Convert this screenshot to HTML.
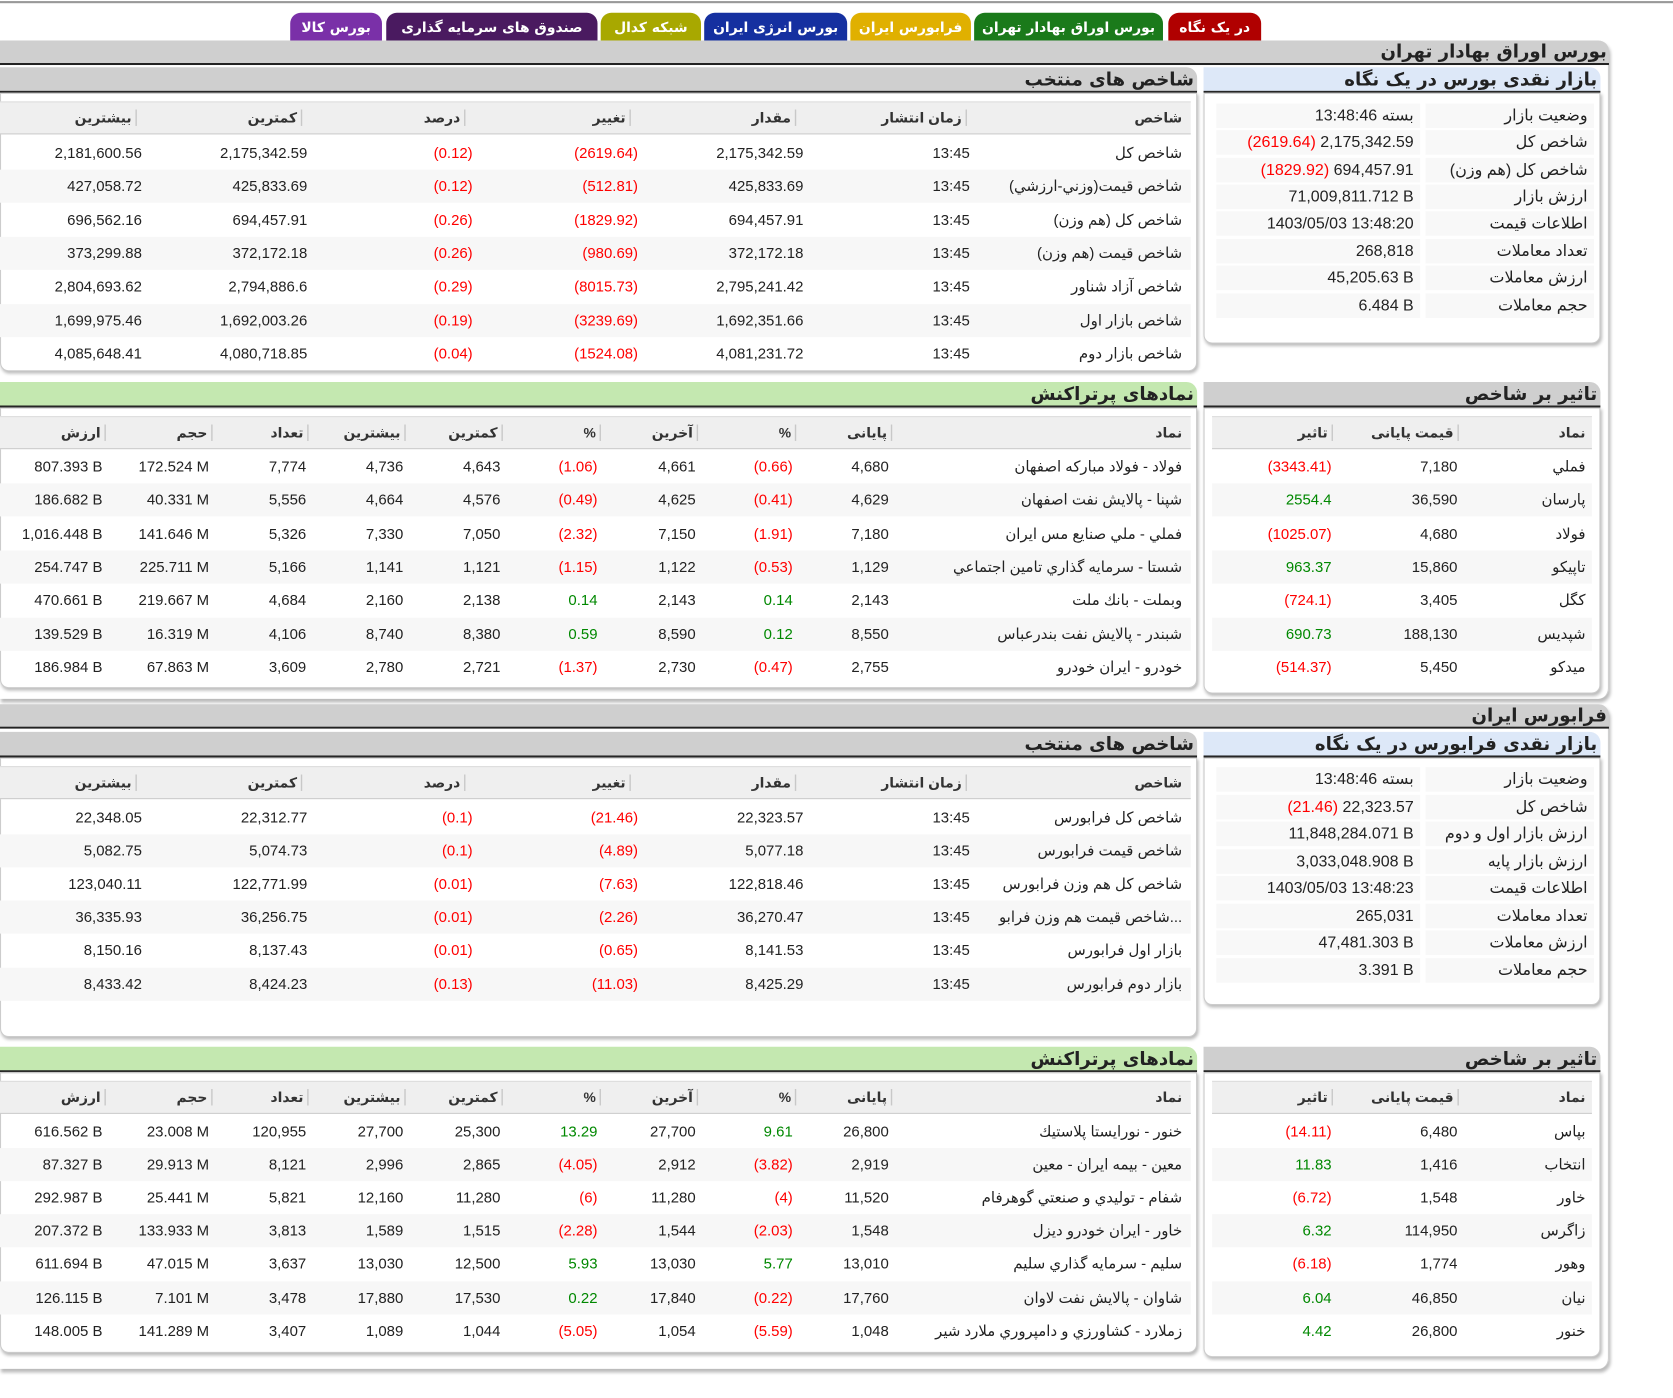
<!DOCTYPE html>
<html><head><meta charset="utf-8">
<style>
*{margin:0;padding:0;box-sizing:border-box}
body{width:1673px;height:1398px;background:#fff;overflow:hidden;font-family:"Liberation Sans","DejaVu Sans",sans-serif;color:#222}
#w{position:absolute;left:0;top:0;width:1568px;height:1310px;transform:scale(1.06696);transform-origin:0 0}
.a{position:absolute}
.tab{position:absolute;top:12px;height:26px;border-radius:10px 10px 0 0;color:#fff;font-weight:bold;font-size:13px;text-align:center;line-height:30px;font-family:"DejaVu Sans",sans-serif}
.mh{position:absolute;left:0;width:1508px;height:23px;background:#cfcfcf;border-bottom:2px solid #222;border-radius:0 10px 0 0;font-weight:bold;font-size:17px;text-align:right;padding-right:2px;line-height:22px;font-family:"DejaVu Sans",sans-serif}
.ph{position:absolute;height:24px;border-bottom:2px solid #222;font-weight:bold;font-size:17px;text-align:right;padding-right:3px;line-height:24px;border-radius:0 10px 0 0;font-family:"DejaVu Sans",sans-serif}
.pan{position:absolute;border:1px solid #ccc;border-radius:0 0 8px 8px;box-shadow:1px 2px 3px #bbb;background:#fff}
.r{position:absolute;left:0;height:31px;line-height:31px;font-size:14px}
.r.e{background:#f7f7f7}
.c{position:absolute;left:0;top:0;text-align:right;white-space:nowrap}
.hd{position:absolute;background:#efefef;border-bottom:1px solid #ccc;border-top:1px solid #ddd;font-weight:bold;font-size:13px;color:#333}
.hd .c{line-height:30px}
.hd i{font-style:normal;color:#c8c8c8;font-weight:normal}
.rd{color:#f00}.gr{color:#080}
.s{position:absolute;height:23px;line-height:23px;font-size:15px;background:#f8f8f8;text-align:right;padding-right:6px;white-space:nowrap}
</style></head><body><div id="w">
<div class="a" style="left:0;top:1px;width:1568px;height:2px;background:#999"></div>
<div class="tab" style="left:1095px;width:87px;background:#b00000">در یک نگاه</div>
<div class="tab" style="left:913px;width:177px;background:#1a7a1a">بورس اوراق بهادار تهران</div>
<div class="tab" style="left:797px;width:113px;background:#e0b000">فرابورس ایران</div>
<div class="tab" style="left:660px;width:134px;background:#1530a0">بورس انرژی ایران</div>
<div class="tab" style="left:563px;width:94px;background:#a8a800">شبکه کدال</div>
<div class="tab" style="left:362px;width:198px;background:#4a1a60">صندوق های سرمایه گذاری</div>
<div class="tab" style="left:272px;width:86px;background:#7a30a8">بورس کالا</div>

<div class="a" style="left:0;top:38px;width:1508px;height:617px;border-right:1px solid #ccc;box-shadow:1px 3px 3px #bbb;border-radius:0 10px 10px 0"></div>
<div class="mh" style="top:38px">بورس اوراق بهادار تهران</div>

<div class="ph" style="left:0;top:63px;width:1122px;background:#cfcfcf">شاخص های منتخب</div>
<div class="pan" style="left:0;top:87px;width:1122px;height:261px"></div>
<div class="hd" style="left:0;top:95px;width:1116px;height:31px">
<span class="c" style="width:1108px">شاخص</span><span class="c" style="width:915px">زمان انتشار <i>▏</i></span><span class="c" style="width:755px">مقدار <i>▏</i></span><span class="c" style="width:600px">تغییر <i>▏</i></span><span class="c" style="width:445px">درصد <i>▏</i></span><span class="c" style="width:292px">کمترین <i>▏</i></span><span class="c" style="width:137px">بیشترین <i>▏</i></span></div>
<div class="r" style="top:128px;width:1116px"><span class="c" style="width:1108px">شاخص کل</span><span class="c" style="width:909px">13:45</span><span class="c" style="width:753px">2,175,342.59</span><span class="c rd" style="width:598px">(2619.64)</span><span class="c rd" style="width:443px">(0.12)</span><span class="c" style="width:288px">2,175,342.59</span><span class="c" style="width:133px">2,181,600.56</span></div>
<div class="r e" style="top:159px;width:1116px"><span class="c" style="width:1108px">شاخص قيمت(وزني-ارزشي)</span><span class="c" style="width:909px">13:45</span><span class="c" style="width:753px">425,833.69</span><span class="c rd" style="width:598px">(512.81)</span><span class="c rd" style="width:443px">(0.12)</span><span class="c" style="width:288px">425,833.69</span><span class="c" style="width:133px">427,058.72</span></div>
<div class="r" style="top:191px;width:1116px"><span class="c" style="width:1108px">شاخص کل (هم وزن)</span><span class="c" style="width:909px">13:45</span><span class="c" style="width:753px">694,457.91</span><span class="c rd" style="width:598px">(1829.92)</span><span class="c rd" style="width:443px">(0.26)</span><span class="c" style="width:288px">694,457.91</span><span class="c" style="width:133px">696,562.16</span></div>
<div class="r e" style="top:222px;width:1116px"><span class="c" style="width:1108px">شاخص قيمت (هم وزن)</span><span class="c" style="width:909px">13:45</span><span class="c" style="width:753px">372,172.18</span><span class="c rd" style="width:598px">(980.69)</span><span class="c rd" style="width:443px">(0.26)</span><span class="c" style="width:288px">372,172.18</span><span class="c" style="width:133px">373,299.88</span></div>
<div class="r" style="top:253px;width:1116px"><span class="c" style="width:1108px">شاخص آزاد شناور</span><span class="c" style="width:909px">13:45</span><span class="c" style="width:753px">2,795,241.42</span><span class="c rd" style="width:598px">(8015.73)</span><span class="c rd" style="width:443px">(0.29)</span><span class="c" style="width:288px">2,794,886.6</span><span class="c" style="width:133px">2,804,693.62</span></div>
<div class="r e" style="top:285px;width:1116px"><span class="c" style="width:1108px">شاخص بازار اول</span><span class="c" style="width:909px">13:45</span><span class="c" style="width:753px">1,692,351.66</span><span class="c rd" style="width:598px">(3239.69)</span><span class="c rd" style="width:443px">(0.19)</span><span class="c" style="width:288px">1,692,003.26</span><span class="c" style="width:133px">1,699,975.46</span></div>
<div class="r" style="top:316px;width:1116px"><span class="c" style="width:1108px">شاخص بازار دوم</span><span class="c" style="width:909px">13:45</span><span class="c" style="width:753px">4,081,231.72</span><span class="c rd" style="width:598px">(1524.08)</span><span class="c rd" style="width:443px">(0.04)</span><span class="c" style="width:288px">4,080,718.85</span><span class="c" style="width:133px">4,085,648.41</span></div>

<div class="ph" style="left:1128px;top:63px;width:372px;background:#dde8f8">بازار نقدی بورس در یک نگاه</div>
<div class="pan" style="left:1128px;top:87px;width:372px;height:235px"></div>
<div class="s" style="left:1336px;top:97px;width:158px">وضعیت بازار</div><div class="s" style="left:1140px;top:97px;width:191px">بسته 13:48:46</div>
<div class="s" style="left:1336px;top:122px;width:158px">شاخص کل</div><div class="s" style="left:1140px;top:122px;width:191px"><span class="rd">(2619.64)</span> 2,175,342.59</div>
<div class="s" style="left:1336px;top:148px;width:158px">شاخص کل (هم وزن)</div><div class="s" style="left:1140px;top:148px;width:191px"><span class="rd">(1829.92)</span> 694,457.91</div>
<div class="s" style="left:1336px;top:173px;width:158px">ارزش بازار</div><div class="s" style="left:1140px;top:173px;width:191px">71,009,811.712 B</div>
<div class="s" style="left:1336px;top:198px;width:158px">اطلاعات قیمت</div><div class="s" style="left:1140px;top:198px;width:191px">1403/05/03 13:48:20</div>
<div class="s" style="left:1336px;top:224px;width:158px">تعداد معاملات</div><div class="s" style="left:1140px;top:224px;width:191px">268,818</div>
<div class="s" style="left:1336px;top:249px;width:158px">ارزش معاملات</div><div class="s" style="left:1140px;top:249px;width:191px">45,205.63 B</div>
<div class="s" style="left:1336px;top:275px;width:158px">حجم معاملات</div><div class="s" style="left:1140px;top:275px;width:191px">6.484 B</div>

<div class="ph" style="left:0;top:358px;width:1122px;background:#c4e8b0">نمادهای پرتراکنش</div>
<div class="pan" style="left:0;top:382px;width:1122px;height:263px"></div>
<div class="hd" style="left:0;top:390px;width:1116px;height:31px">
<span class="c" style="width:1108px">نماد</span><span class="c" style="width:845px">پایانی <i>▏</i></span><span class="c" style="width:755px">% <i>▏</i></span><span class="c" style="width:663px">آخرین <i>▏</i></span><span class="c" style="width:572px">% <i>▏</i></span><span class="c" style="width:480px">کمترین <i>▏</i></span><span class="c" style="width:389px">بیشترین <i>▏</i></span><span class="c" style="width:298px">تعداد <i>▏</i></span><span class="c" style="width:208px">حجم <i>▏</i></span><span class="c" style="width:108px">ارزش <i>▏</i></span></div>
<div class="r" style="top:422px;width:1116px"><span class="c" style="width:1108px">فولاد - فولاد مباركه اصفهان</span><span class="c" style="width:833px">4,680</span><span class="c rd" style="width:743px">(0.66)</span><span class="c" style="width:652px">4,661</span><span class="c rd" style="width:560px">(1.06)</span><span class="c" style="width:469px">4,643</span><span class="c" style="width:378px">4,736</span><span class="c" style="width:287px">7,774</span><span class="c" style="width:196px">172.524 M</span><span class="c" style="width:96px">807.393 B</span></div>
<div class="r e" style="top:453px;width:1116px"><span class="c" style="width:1108px">شپنا - پالايش نفت اصفهان</span><span class="c" style="width:833px">4,629</span><span class="c rd" style="width:743px">(0.41)</span><span class="c" style="width:652px">4,625</span><span class="c rd" style="width:560px">(0.49)</span><span class="c" style="width:469px">4,576</span><span class="c" style="width:378px">4,664</span><span class="c" style="width:287px">5,556</span><span class="c" style="width:196px">40.331 M</span><span class="c" style="width:96px">186.682 B</span></div>
<div class="r" style="top:485px;width:1116px"><span class="c" style="width:1108px">فملي - ملي صنايع مس ايران</span><span class="c" style="width:833px">7,180</span><span class="c rd" style="width:743px">(1.91)</span><span class="c" style="width:652px">7,150</span><span class="c rd" style="width:560px">(2.32)</span><span class="c" style="width:469px">7,050</span><span class="c" style="width:378px">7,330</span><span class="c" style="width:287px">5,326</span><span class="c" style="width:196px">141.646 M</span><span class="c" style="width:96px">1,016.448 B</span></div>
<div class="r e" style="top:516px;width:1116px"><span class="c" style="width:1108px">شستا - سرمايه گذاري تامين اجتماعي</span><span class="c" style="width:833px">1,129</span><span class="c rd" style="width:743px">(0.53)</span><span class="c" style="width:652px">1,122</span><span class="c rd" style="width:560px">(1.15)</span><span class="c" style="width:469px">1,121</span><span class="c" style="width:378px">1,141</span><span class="c" style="width:287px">5,166</span><span class="c" style="width:196px">225.711 M</span><span class="c" style="width:96px">254.747 B</span></div>
<div class="r" style="top:547px;width:1116px"><span class="c" style="width:1108px">وبملت - بانك ملت</span><span class="c" style="width:833px">2,143</span><span class="c gr" style="width:743px">0.14</span><span class="c" style="width:652px">2,143</span><span class="c gr" style="width:560px">0.14</span><span class="c" style="width:469px">2,138</span><span class="c" style="width:378px">2,160</span><span class="c" style="width:287px">4,684</span><span class="c" style="width:196px">219.667 M</span><span class="c" style="width:96px">470.661 B</span></div>
<div class="r e" style="top:579px;width:1116px"><span class="c" style="width:1108px">شبندر - پالايش نفت بندرعباس</span><span class="c" style="width:833px">8,550</span><span class="c gr" style="width:743px">0.12</span><span class="c" style="width:652px">8,590</span><span class="c gr" style="width:560px">0.59</span><span class="c" style="width:469px">8,380</span><span class="c" style="width:378px">8,740</span><span class="c" style="width:287px">4,106</span><span class="c" style="width:196px">16.319 M</span><span class="c" style="width:96px">139.529 B</span></div>
<div class="r" style="top:610px;width:1116px"><span class="c" style="width:1108px">خودرو - ايران خودرو</span><span class="c" style="width:833px">2,755</span><span class="c rd" style="width:743px">(0.47)</span><span class="c" style="width:652px">2,730</span><span class="c rd" style="width:560px">(1.37)</span><span class="c" style="width:469px">2,721</span><span class="c" style="width:378px">2,780</span><span class="c" style="width:287px">3,609</span><span class="c" style="width:196px">67.863 M</span><span class="c" style="width:96px">186.984 B</span></div>

<div class="ph" style="left:1128px;top:358px;width:372px;background:#cfcfcf">تاثیر بر شاخص</div>
<div class="pan" style="left:1128px;top:382px;width:372px;height:268px"></div>
<div class="hd" style="left:1136px;top:390px;width:356px;height:31px"><span class="c" style="width:350px">نماد</span><span class="c" style="width:240px">قیمت پایانی <i>▏</i></span><span class="c" style="width:122px">تاثیر <i>▏</i></span></div>
<div class="r" style="left:1136px;top:422px;width:356px"><span class="c" style="width:350px">فملي</span><span class="c" style="width:230px">7,180</span><span class="c rd" style="width:112px">(3343.41)</span></div>
<div class="r e" style="left:1136px;top:453px;width:356px"><span class="c" style="width:350px">پارسان</span><span class="c" style="width:230px">36,590</span><span class="c gr" style="width:112px">2554.4</span></div>
<div class="r" style="left:1136px;top:485px;width:356px"><span class="c" style="width:350px">فولاد</span><span class="c" style="width:230px">4,680</span><span class="c rd" style="width:112px">(1025.07)</span></div>
<div class="r e" style="left:1136px;top:516px;width:356px"><span class="c" style="width:350px">تاپيكو</span><span class="c" style="width:230px">15,860</span><span class="c gr" style="width:112px">963.37</span></div>
<div class="r" style="left:1136px;top:547px;width:356px"><span class="c" style="width:350px">كگل</span><span class="c" style="width:230px">3,405</span><span class="c rd" style="width:112px">(724.1)</span></div>
<div class="r e" style="left:1136px;top:579px;width:356px"><span class="c" style="width:350px">شپديس</span><span class="c" style="width:230px">188,130</span><span class="c gr" style="width:112px">690.73</span></div>
<div class="r" style="left:1136px;top:610px;width:356px"><span class="c" style="width:350px">ميدكو</span><span class="c" style="width:230px">5,450</span><span class="c rd" style="width:112px">(514.37)</span></div>

<div class="a" style="left:0;top:660px;width:1508px;height:623px;border-right:1px solid #ccc;box-shadow:1px 3px 3px #bbb;border-radius:0 10px 10px 0"></div>
<div class="mh" style="top:660px">فرابورس ایران</div>

<div class="ph" style="left:0;top:686px;width:1122px;background:#cfcfcf">شاخص های منتخب</div>
<div class="pan" style="left:0;top:710px;width:1122px;height:262px"></div>
<div class="hd" style="left:0;top:718px;width:1116px;height:31px">
<span class="c" style="width:1108px">شاخص</span><span class="c" style="width:915px">زمان انتشار <i>▏</i></span><span class="c" style="width:755px">مقدار <i>▏</i></span><span class="c" style="width:600px">تغییر <i>▏</i></span><span class="c" style="width:445px">درصد <i>▏</i></span><span class="c" style="width:292px">کمترین <i>▏</i></span><span class="c" style="width:137px">بیشترین <i>▏</i></span></div>
<div class="r" style="top:751px;width:1116px"><span class="c" style="width:1108px">شاخص كل فرابورس</span><span class="c" style="width:909px">13:45</span><span class="c" style="width:753px">22,323.57</span><span class="c rd" style="width:598px">(21.46)</span><span class="c rd" style="width:443px">(0.1)</span><span class="c" style="width:288px">22,312.77</span><span class="c" style="width:133px">22,348.05</span></div>
<div class="r e" style="top:782px;width:1116px"><span class="c" style="width:1108px">شاخص قيمت فرابورس</span><span class="c" style="width:909px">13:45</span><span class="c" style="width:753px">5,077.18</span><span class="c rd" style="width:598px">(4.89)</span><span class="c rd" style="width:443px">(0.1)</span><span class="c" style="width:288px">5,074.73</span><span class="c" style="width:133px">5,082.75</span></div>
<div class="r" style="top:813px;width:1116px"><span class="c" style="width:1108px">شاخص كل هم وزن فرابورس</span><span class="c" style="width:909px">13:45</span><span class="c" style="width:753px">122,818.46</span><span class="c rd" style="width:598px">(7.63)</span><span class="c rd" style="width:443px">(0.01)</span><span class="c" style="width:288px">122,771.99</span><span class="c" style="width:133px">123,040.11</span></div>
<div class="r e" style="top:844px;width:1116px"><span class="c" style="width:1108px">شاخص قیمت هم وزن فرابو...</span><span class="c" style="width:909px">13:45</span><span class="c" style="width:753px">36,270.47</span><span class="c rd" style="width:598px">(2.26)</span><span class="c rd" style="width:443px">(0.01)</span><span class="c" style="width:288px">36,256.75</span><span class="c" style="width:133px">36,335.93</span></div>
<div class="r" style="top:875px;width:1116px"><span class="c" style="width:1108px">بازار اول فرابورس</span><span class="c" style="width:909px">13:45</span><span class="c" style="width:753px">8,141.53</span><span class="c rd" style="width:598px">(0.65)</span><span class="c rd" style="width:443px">(0.01)</span><span class="c" style="width:288px">8,137.43</span><span class="c" style="width:133px">8,150.16</span></div>
<div class="r e" style="top:907px;width:1116px"><span class="c" style="width:1108px">بازار دوم فرابورس</span><span class="c" style="width:909px">13:45</span><span class="c" style="width:753px">8,425.29</span><span class="c rd" style="width:598px">(11.03)</span><span class="c rd" style="width:443px">(0.13)</span><span class="c" style="width:288px">8,424.23</span><span class="c" style="width:133px">8,433.42</span></div>

<div class="ph" style="left:1128px;top:686px;width:372px;background:#dde8f8">بازار نقدی فرابورس در یک نگاه</div>
<div class="pan" style="left:1128px;top:710px;width:372px;height:232px"></div>
<div class="s" style="left:1336px;top:719px;width:158px">وضعیت بازار</div><div class="s" style="left:1140px;top:719px;width:191px">بسته 13:48:46</div>
<div class="s" style="left:1336px;top:745px;width:158px">شاخص کل</div><div class="s" style="left:1140px;top:745px;width:191px"><span class="rd">(21.46)</span> 22,323.57</div>
<div class="s" style="left:1336px;top:770px;width:158px">ارزش بازار اول و دوم</div><div class="s" style="left:1140px;top:770px;width:191px">11,848,284.071 B</div>
<div class="s" style="left:1336px;top:796px;width:158px">ارزش بازار پایه</div><div class="s" style="left:1140px;top:796px;width:191px">3,033,048.908 B</div>
<div class="s" style="left:1336px;top:821px;width:158px">اطلاعات قیمت</div><div class="s" style="left:1140px;top:821px;width:191px">1403/05/03 13:48:23</div>
<div class="s" style="left:1336px;top:847px;width:158px">تعداد معاملات</div><div class="s" style="left:1140px;top:847px;width:191px">265,031</div>
<div class="s" style="left:1336px;top:872px;width:158px">ارزش معاملات</div><div class="s" style="left:1140px;top:872px;width:191px">47,481.303 B</div>
<div class="s" style="left:1336px;top:898px;width:158px">حجم معاملات</div><div class="s" style="left:1140px;top:898px;width:191px">3.391 B</div>

<div class="ph" style="left:0;top:981px;width:1122px;background:#c4e8b0">نمادهای پرتراکنش</div>
<div class="pan" style="left:0;top:1005px;width:1122px;height:263px"></div>
<div class="hd" style="left:0;top:1013px;width:1116px;height:31px">
<span class="c" style="width:1108px">نماد</span><span class="c" style="width:845px">پایانی <i>▏</i></span><span class="c" style="width:755px">% <i>▏</i></span><span class="c" style="width:663px">آخرین <i>▏</i></span><span class="c" style="width:572px">% <i>▏</i></span><span class="c" style="width:480px">کمترین <i>▏</i></span><span class="c" style="width:389px">بیشترین <i>▏</i></span><span class="c" style="width:298px">تعداد <i>▏</i></span><span class="c" style="width:208px">حجم <i>▏</i></span><span class="c" style="width:108px">ارزش <i>▏</i></span></div>
<div class="r" style="top:1045px;width:1116px"><span class="c" style="width:1108px">خنور - نورايستا پلاستيك</span><span class="c" style="width:833px">26,800</span><span class="c gr" style="width:743px">9.61</span><span class="c" style="width:652px">27,700</span><span class="c gr" style="width:560px">13.29</span><span class="c" style="width:469px">25,300</span><span class="c" style="width:378px">27,700</span><span class="c" style="width:287px">120,955</span><span class="c" style="width:196px">23.008 M</span><span class="c" style="width:96px">616.562 B</span></div>
<div class="r e" style="top:1076px;width:1116px"><span class="c" style="width:1108px">معين - بيمه ايران - معين</span><span class="c" style="width:833px">2,919</span><span class="c rd" style="width:743px">(3.82)</span><span class="c" style="width:652px">2,912</span><span class="c rd" style="width:560px">(4.05)</span><span class="c" style="width:469px">2,865</span><span class="c" style="width:378px">2,996</span><span class="c" style="width:287px">8,121</span><span class="c" style="width:196px">29.913 M</span><span class="c" style="width:96px">87.327 B</span></div>
<div class="r" style="top:1107px;width:1116px"><span class="c" style="width:1108px">شفام - توليدي و صنعتي گوهرفام</span><span class="c" style="width:833px">11,520</span><span class="c rd" style="width:743px">(4)</span><span class="c" style="width:652px">11,280</span><span class="c rd" style="width:560px">(6)</span><span class="c" style="width:469px">11,280</span><span class="c" style="width:378px">12,160</span><span class="c" style="width:287px">5,821</span><span class="c" style="width:196px">25.441 M</span><span class="c" style="width:96px">292.987 B</span></div>
<div class="r e" style="top:1138px;width:1116px"><span class="c" style="width:1108px">خاور - ايران خودرو ديزل</span><span class="c" style="width:833px">1,548</span><span class="c rd" style="width:743px">(2.03)</span><span class="c" style="width:652px">1,544</span><span class="c rd" style="width:560px">(2.28)</span><span class="c" style="width:469px">1,515</span><span class="c" style="width:378px">1,589</span><span class="c" style="width:287px">3,813</span><span class="c" style="width:196px">133.933 M</span><span class="c" style="width:96px">207.372 B</span></div>
<div class="r" style="top:1169px;width:1116px"><span class="c" style="width:1108px">سليم - سرمايه گذاري سليم</span><span class="c" style="width:833px">13,010</span><span class="c gr" style="width:743px">5.77</span><span class="c" style="width:652px">13,030</span><span class="c gr" style="width:560px">5.93</span><span class="c" style="width:469px">12,500</span><span class="c" style="width:378px">13,030</span><span class="c" style="width:287px">3,637</span><span class="c" style="width:196px">47.015 M</span><span class="c" style="width:96px">611.694 B</span></div>
<div class="r e" style="top:1201px;width:1116px"><span class="c" style="width:1108px">شاوان - پالايش نفت لاوان</span><span class="c" style="width:833px">17,760</span><span class="c rd" style="width:743px">(0.22)</span><span class="c" style="width:652px">17,840</span><span class="c gr" style="width:560px">0.22</span><span class="c" style="width:469px">17,530</span><span class="c" style="width:378px">17,880</span><span class="c" style="width:287px">3,478</span><span class="c" style="width:196px">7.101 M</span><span class="c" style="width:96px">126.115 B</span></div>
<div class="r" style="top:1232px;width:1116px"><span class="c" style="width:1108px">زملارد - كشاورزي و دامپروري ملارد شير</span><span class="c" style="width:833px">1,048</span><span class="c rd" style="width:743px">(5.59)</span><span class="c" style="width:652px">1,054</span><span class="c rd" style="width:560px">(5.05)</span><span class="c" style="width:469px">1,044</span><span class="c" style="width:378px">1,089</span><span class="c" style="width:287px">3,407</span><span class="c" style="width:196px">141.289 M</span><span class="c" style="width:96px">148.005 B</span></div>

<div class="ph" style="left:1128px;top:981px;width:372px;background:#cfcfcf">تاثیر بر شاخص</div>
<div class="pan" style="left:1128px;top:1005px;width:372px;height:267px"></div>
<div class="hd" style="left:1136px;top:1013px;width:356px;height:31px"><span class="c" style="width:350px">نماد</span><span class="c" style="width:240px">قیمت پایانی <i>▏</i></span><span class="c" style="width:122px">تاثیر <i>▏</i></span></div>
<div class="r" style="left:1136px;top:1045px;width:356px"><span class="c" style="width:350px">بپاس</span><span class="c" style="width:230px">6,480</span><span class="c rd" style="width:112px">(14.11)</span></div>
<div class="r e" style="left:1136px;top:1076px;width:356px"><span class="c" style="width:350px">انتخاب</span><span class="c" style="width:230px">1,416</span><span class="c gr" style="width:112px">11.83</span></div>
<div class="r" style="left:1136px;top:1107px;width:356px"><span class="c" style="width:350px">خاور</span><span class="c" style="width:230px">1,548</span><span class="c rd" style="width:112px">(6.72)</span></div>
<div class="r e" style="left:1136px;top:1138px;width:356px"><span class="c" style="width:350px">زاگرس</span><span class="c" style="width:230px">114,950</span><span class="c gr" style="width:112px">6.32</span></div>
<div class="r" style="left:1136px;top:1169px;width:356px"><span class="c" style="width:350px">وهور</span><span class="c" style="width:230px">1,774</span><span class="c rd" style="width:112px">(6.18)</span></div>
<div class="r e" style="left:1136px;top:1201px;width:356px"><span class="c" style="width:350px">نيان</span><span class="c" style="width:230px">46,850</span><span class="c gr" style="width:112px">6.04</span></div>
<div class="r" style="left:1136px;top:1232px;width:356px"><span class="c" style="width:350px">خنور</span><span class="c" style="width:230px">26,800</span><span class="c gr" style="width:112px">4.42</span></div>
</div></body></html>
